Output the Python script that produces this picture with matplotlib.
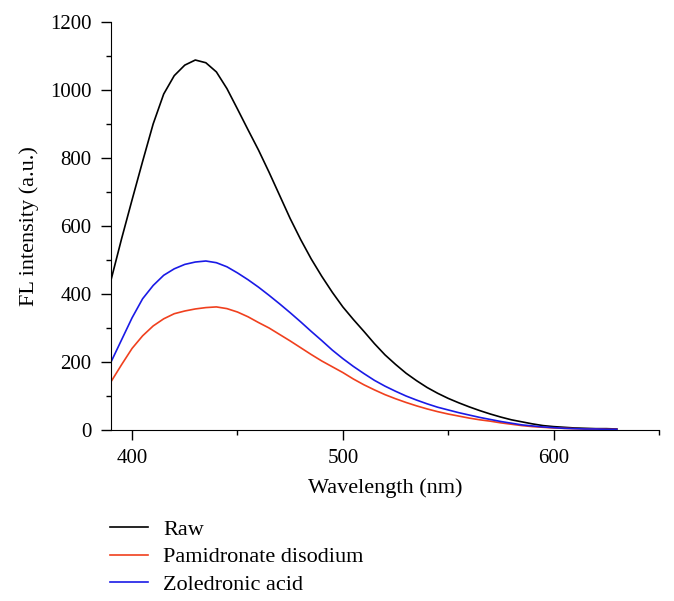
import numpy as np
import matplotlib
matplotlib.use("Agg")
import matplotlib.pyplot as plt

wavelength = np.arange(390, 631, 5)

raw = [441, 562, 677, 790, 900, 988, 1042, 1073, 1088, 1080,
       1053, 1004, 944, 883, 823, 758, 690, 622, 560, 503,
       452, 405, 362, 325, 290, 254, 221, 193, 167, 145,
       125, 108, 93, 80, 68, 57, 47, 38, 30, 24,
       18, 13, 10, 8, 6, 5, 4, 4, 3]

pamidronate = [142, 192, 240, 277, 306, 327, 342, 350, 356, 360,
               362, 357, 347, 333, 316, 300, 281, 262, 242, 222,
               203, 186, 169, 150, 133, 118, 104, 92, 81, 71,
               62, 54, 47, 41, 35, 30, 26, 21, 17, 13,
               10, 8, 6, 5, 4, 3, 3, 2, 2]

zoledronic = [200, 265, 330, 386, 425, 455, 474, 487, 494, 497,
              492, 480, 462, 442, 420, 396, 371, 345, 318, 290,
              263, 235, 210, 187, 166, 146, 129, 114, 100, 88,
              77, 67, 59, 51, 44, 37, 31, 25, 20, 15,
              12, 9, 7, 5, 4, 3, 3, 2, 2]

plt.rcParams['font.family'] = ['Liberation Serif', 'DejaVu Serif']

fig = plt.figure(figsize=(6.74, 6.01), dpi=100)
ax = fig.add_axes([0.1647, 0.2845, 0.813, 0.679])

ax.plot(wavelength, raw, color='black', lw=1.2, label='Raw')
ax.plot(wavelength, pamidronate, color='#f0401e', lw=1.2, label='Pamidronate disodium')
ax.plot(wavelength, zoledronic, color='#1a1ae6', lw=1.2, label='Zoledronic acid')

ax.set_xlim(390, 650)
ax.set_ylim(0, 1200)
ax.set_xticks([400, 500, 600])
ax.set_xticks([450, 550, 650], minor=True)
ax.set_yticks(range(0, 1201, 200))
ax.set_yticks(range(100, 1200, 200), minor=True)
ax.spines['top'].set_visible(False)
ax.spines['right'].set_visible(False)
ax.tick_params(which='major', direction='out', length=7, width=1, labelsize=15, pad=7)
ax.tick_params(which='minor', direction='out', length=3.5, width=1)

ax.set_xlabel('Wavelength (nm)', fontsize=16, labelpad=7)
ax.set_ylabel('FL intensity (a.u.)', fontsize=16, labelpad=8)

fig.legend(loc='upper left', bbox_to_anchor=(0.163, 0.136), frameon=False,
           borderpad=0, borderaxespad=0,
           fontsize=16, handlelength=1.7, handletextpad=0.7, labelspacing=0.32)

fig.savefig('out.png', dpi=100)
